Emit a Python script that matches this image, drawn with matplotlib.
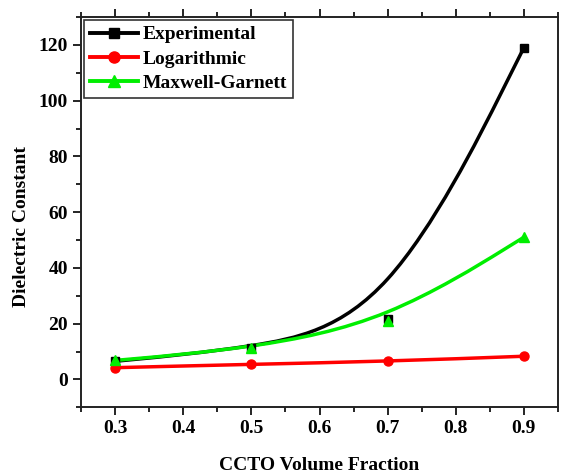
import matplotlib
matplotlib.use('Agg')

import matplotlib.pyplot as plt
from matplotlib.path import Path
from matplotlib.patches import PathPatch
from matplotlib.lines import Line2D
from matplotlib.ticker import MultipleLocator

plt.rcParams['font.family'] = 'Liberation Serif'
plt.rcParams['font.weight'] = 'bold'

# CCTO volume fraction
fraction = [0.3, 0.5, 0.7, 0.9]

# Dielectric constant values
experimental = [6.5, 11.2, 21.5, 119.0]
logarithmic = [4.2, 5.4, 6.5, 8.3]
maxwell_garnett = [6.8, 11.1, 20.8, 51.0]


def bspline_path(xs, ys):
    # uniform cubic B-spline (Origin style), data points as control points,
    # end points repeated so the curve starts and ends on them
    pts = list(zip(xs, ys))
    ctrl = [pts[0]] * 2 + pts + [pts[-1]] * 2
    verts, codes = [], []
    for i in range(len(ctrl) - 3):
        q0, q1, q2, q3 = ctrl[i:i + 4]
        b0 = tuple((a + 4 * b + c) / 6 for a, b, c in zip(q0, q1, q2))
        b1 = tuple((4 * b + 2 * c) / 6 for b, c in zip(q1, q2))
        b2 = tuple((2 * b + 4 * c) / 6 for b, c in zip(q1, q2))
        b3 = tuple((b + 4 * c + d) / 6 for b, c, d in zip(q1, q2, q3))
        if not verts:
            verts.append(b0)
            codes.append(Path.MOVETO)
        verts += [b1, b2, b3]
        codes += [Path.CURVE4] * 3
    return Path(verts, codes)


fig = plt.figure(figsize=(5.63, 4.73), dpi=100)
ax = fig.add_axes([0.144, 0.139, 0.847, 0.825])

series = [
    ('Experimental', experimental, 'black', 's', 6),
    ('Logarithmic', logarithmic, '#ff0000', 'o', 6.5),
    ('Maxwell-Garnett', maxwell_garnett, '#00ee00', '^', 7),
]

handles = []
for label, ys, color, marker, ms in series:
    ax.add_patch(PathPatch(bspline_path(fraction, ys), facecolor='none',
                           edgecolor=color, lw=2.5, capstyle='round'))
    ax.plot(fraction, ys, linestyle='none', marker=marker, ms=ms, color=color)
    handles.append(Line2D([], [], color=color, lw=2.8, marker=marker, ms=ms + 1.5, label=label))

ax.set_xlim(0.25, 0.95)
ax.set_ylim(-10, 130)
ax.xaxis.set_major_locator(MultipleLocator(0.1))
ax.xaxis.set_minor_locator(MultipleLocator(0.05))
ax.yaxis.set_major_locator(MultipleLocator(20))
ax.yaxis.set_minor_locator(MultipleLocator(10))
ax.tick_params(which='both', direction='out', top=True, right=False, width=1.2, labelsize=14)
ax.tick_params(which='major', length=6)
ax.tick_params(which='minor', length=3.5)
for s in ax.spines.values():
    s.set_linewidth(1.4)
    s.set_color('#222222')

ax.set_xlabel('CCTO Volume Fraction', fontsize=14, fontweight='bold', labelpad=14)
ax.set_ylabel('Dielectric Constant', fontsize=14, fontweight='bold')
ax.yaxis.set_label_coords(-0.108, 0.464)

leg = ax.legend(handles=handles, loc='upper left', fontsize=14, handlelength=2.5,
                frameon=True, fancybox=False, edgecolor='#333333', framealpha=1,
                borderaxespad=0.15, borderpad=0.3, labelspacing=0.35, handletextpad=0.2)
leg.get_frame().set_linewidth(1.2)

fig.savefig('out.png', dpi=100)
